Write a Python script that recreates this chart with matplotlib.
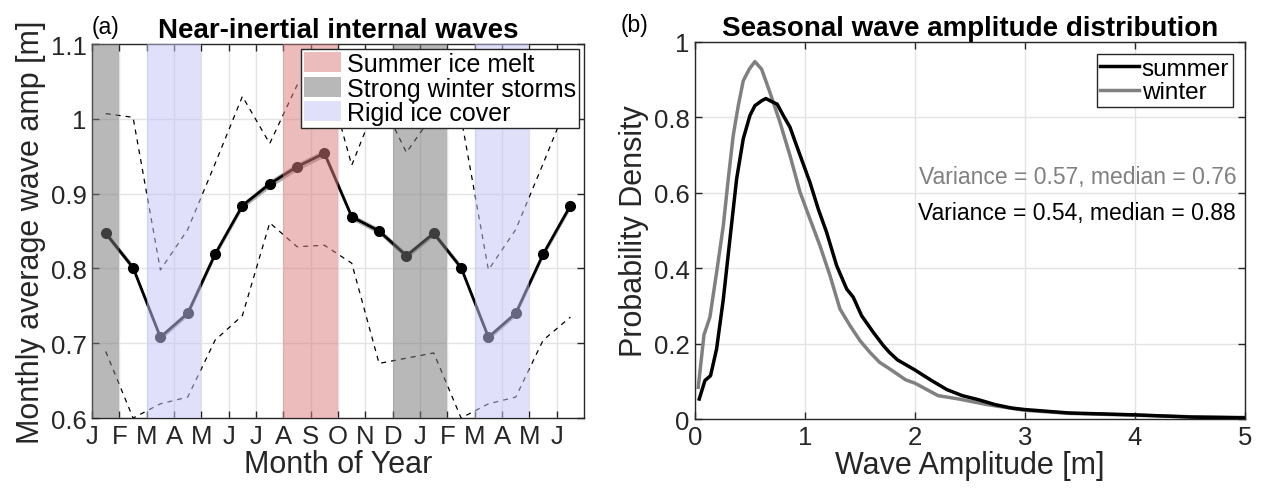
import numpy as np
import matplotlib
matplotlib.use("Agg")
import matplotlib.pyplot as plt
from matplotlib.patches import Patch

plt.rcParams['font.family'] = ['Liberation Sans', 'DejaVu Sans']

# ---------------- data: panel (a) ----------------
month_labels = ['J', 'F', 'M', 'A', 'M', 'J', 'J', 'A', 'S', 'O', 'N', 'D',
                'J', 'F', 'M', 'A', 'M', 'J']
month_ticks = list(range(1, 19))
month_centers = [m + 0.5 for m in month_ticks]
mean_amp = [0.847, 0.801, 0.708, 0.740, 0.819, 0.884, 0.913, 0.936, 0.954,
            0.869, 0.850, 0.817, 0.847, 0.801, 0.708, 0.740, 0.819, 0.884]
ci_half = [0.004, 0.004, 0.004, 0.004, 0.004, 0.004, 0.005, 0.005, 0.005,
           0.004, 0.004, 0.004, 0.004, 0.004, 0.004, 0.004, 0.004, 0.004]
upper_amp = [1.007, 1.002, 0.798, 0.852, 0.940, 1.030, 0.967, 1.045, 1.070,
             0.938, 1.030, 0.955, 1.007, 1.002, 0.798, 0.852, 0.940, 1.030]
lower_amp = [0.689, 0.600, 0.619, 0.628, 0.704, 0.737, 0.861, 0.829, 0.831,
             0.807, 0.673, 0.680, 0.687, 0.600, 0.619, 0.628, 0.704, 0.735]

season_names = ['Summer ice melt', 'Strong winter storms', 'Rigid ice cover']
season_spans = {
    'Summer ice melt': [(8, 10)],
    'Strong winter storms': [(1, 2), (12, 14)],
    'Rigid ice cover': [(3, 5), (15, 17)],
}
season_colors = {
    'Summer ice melt': (0.86, 0.49, 0.49),
    'Strong winter storms': (0.47, 0.47, 0.47),
    'Rigid ice cover': (0.77, 0.77, 0.97),
}
season_alpha = 0.52

# ---------------- data: panel (b) ----------------
winter_x = [0.03, 0.082, 0.136, 0.197, 0.258, 0.303, 0.348, 0.394, 0.439, 0.494,
            0.545, 0.606, 0.682, 0.773, 0.864, 0.955, 1.045, 1.136, 1.227, 1.318,
            1.409, 1.5, 1.59, 1.68, 1.77, 1.915, 2.0, 2.21, 2.4, 2.66, 3.0, 3.4,
            4.0, 4.5, 5.0]
winter_pdf = [0.084, 0.223, 0.27, 0.389, 0.513, 0.637, 0.752, 0.831, 0.897, 0.928,
              0.948, 0.928, 0.866, 0.787, 0.699, 0.602, 0.531, 0.460, 0.381, 0.292,
              0.248, 0.208, 0.177, 0.150, 0.133, 0.104, 0.095, 0.062, 0.053, 0.038,
              0.023, 0.015, 0.010, 0.006, 0.004]
summer_x = [0.039, 0.091, 0.142, 0.197, 0.258, 0.318, 0.379, 0.439, 0.5, 0.545,
            0.606, 0.645, 0.697, 0.748, 0.803, 0.864, 0.924, 0.985, 1.045, 1.121,
            1.197, 1.288, 1.379, 1.439, 1.515, 1.621, 1.712, 1.767, 1.84, 2.0,
            2.14, 2.29, 2.43, 2.58, 2.73, 2.88, 3.0, 3.4, 4.0, 4.52, 5.0]
summer_pdf = [0.053, 0.102, 0.115, 0.186, 0.318, 0.477, 0.637, 0.743, 0.805, 0.831,
              0.844, 0.850, 0.842, 0.835, 0.805, 0.774, 0.725, 0.676, 0.628, 0.557,
              0.495, 0.407, 0.345, 0.323, 0.274, 0.230, 0.195, 0.177, 0.157, 0.130,
              0.104, 0.078, 0.062, 0.051, 0.038, 0.029, 0.025, 0.016, 0.011, 0.005,
              0.003]
winter_stats = "Variance = 0.57, median = 0.76"
summer_stats = "Variance = 0.54, median = 0.88"

# ---------------- style ----------------
AX_COL = (0.15, 0.15, 0.15)
GRID_COL = (0.89, 0.89, 0.89)
TICK_FS = 18.5
LABEL_FS = 22
TITLE_FS = 20

fig = plt.figure(figsize=(12.61, 4.89), dpi=100)
ax1 = fig.add_axes([0.0730, 0.1431, 0.3902, 0.7648])
ax2 = fig.add_axes([0.5511, 0.1411, 0.4362, 0.7710])


def style_axes(ax):
    for s in ax.spines.values():
        s.set_color(AX_COL)
        s.set_linewidth(1.0)
    ax.tick_params(direction='in', length=5, width=1.0, colors=AX_COL,
                   labelsize=TICK_FS, top=True, right=True, pad=4)
    ax.grid(True, color=GRID_COL, linewidth=1.0)
    ax.set_axisbelow(True)


# ---------------- panel (a) ----------------
style_axes(ax1)
cx = np.array(month_centers)
m = np.array(mean_amp)
c = np.array(ci_half)
ax1.fill_between(cx, m - c, m + c, color=(0.6, 0.6, 0.6), alpha=0.8,
                 linewidth=0, zorder=3)
ax1.plot(cx, m, color='black', linewidth=2.0, marker='o', markersize=7,
         zorder=4)
ax1.plot(cx, upper_amp, color='black', linestyle=(0, (4, 4)), linewidth=0.9,
         zorder=4)
ax1.plot(cx, lower_amp, color='black', linestyle=(0, (4, 4)), linewidth=0.9,
         zorder=4)
for name in season_names:
    for (a, b) in season_spans[name]:
        ax1.axvspan(a, b, color=season_colors[name], alpha=season_alpha,
                    linewidth=0, zorder=5)
ax1.set_xlim(1, 19)
ax1.set_ylim(0.6, 1.1)
ax1.set_xticks(month_ticks)
ax1.set_xticklabels(month_labels)
ax1.set_yticks([0.6, 0.7, 0.8, 0.9, 1.0, 1.1])
ax1.set_yticklabels(['0.6', '0.7', '0.8', '0.9', '1', '1.1'])
ax1.set_xlabel('Month of Year', fontsize=LABEL_FS, color=AX_COL, labelpad=1)
ax1.set_ylabel('Monthly average wave amp [m]', fontsize=LABEL_FS,
               color=AX_COL, labelpad=3)
ax1.set_title('Near-inertial internal waves', fontsize=TITLE_FS,
              fontweight='bold', pad=5)
ax1.text(0.0, 1.015, '(a)', transform=ax1.transAxes, fontsize=16.5,
         ha='left', va='bottom')
handles = [Patch(facecolor=season_colors[n], alpha=season_alpha, edgecolor='none')
           for n in season_names]
leg1 = ax1.legend(handles, season_names, loc='upper right', fontsize=18,
                  frameon=True, fancybox=False, framealpha=1,
                  edgecolor=AX_COL, handlelength=1.45, handleheight=0.85,
                  handletextpad=0.25, labelspacing=0.02, borderpad=0.12,
                  borderaxespad=0.2)
leg1.get_frame().set_linewidth(1.0)
leg1.set_zorder(10)

# ---------------- panel (b) ----------------
style_axes(ax2)
ax2.plot(summer_x, summer_pdf, color='black', linewidth=2.5, label='summer',
         zorder=4)
ax2.plot(winter_x, winter_pdf, color=(0.5, 0.5, 0.5), linewidth=2.5,
         label='winter', zorder=3)
ax2.set_xlim(0, 5)
ax2.set_ylim(0, 1)
ax2.set_xticks([0, 1, 2, 3, 4, 5])
ax2.set_yticks([0, 0.2, 0.4, 0.6, 0.8, 1.0])
ax2.set_yticklabels(['0', '0.2', '0.4', '0.6', '0.8', '1'])
ax2.set_xlabel('Wave Amplitude [m]', fontsize=LABEL_FS, color=AX_COL,
               labelpad=1)
ax2.set_ylabel('Probability Density', fontsize=LABEL_FS, color=AX_COL,
               labelpad=3)
ax2.set_title('Seasonal wave amplitude distribution', fontsize=TITLE_FS,
              fontweight='bold', pad=5)
ax2.text(-0.135, 1.015, '(b)', transform=ax2.transAxes, fontsize=16.5,
         ha='left', va='bottom')
ax2.text(4.92, 0.642, winter_stats, color=(0.5, 0.5, 0.5), fontsize=16.5,
         ha='right', va='center')
ax2.text(4.92, 0.549, summer_stats, color='black', fontsize=16.5,
         ha='right', va='center')
leg2 = ax2.legend(loc='upper right', fontsize=17.5, frameon=True, fancybox=False,
                  framealpha=1, edgecolor=AX_COL, handlelength=1.6,
                  handletextpad=0.1, labelspacing=0.05, borderpad=0.15,
                  borderaxespad=0.5)
leg2.get_frame().set_linewidth(1.0)

fig.savefig('out.png', dpi=100)
